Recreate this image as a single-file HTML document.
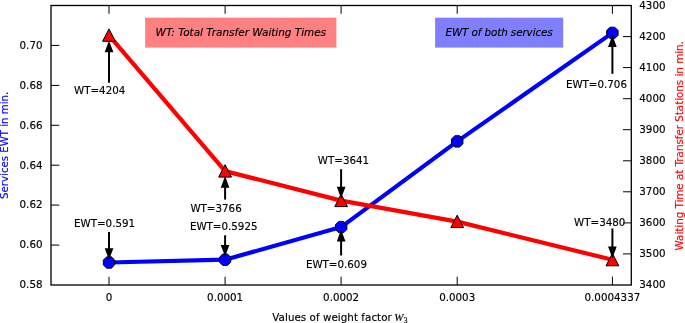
<!DOCTYPE html>
<html><head><meta charset="utf-8"><title>EWT and WT versus weight factor</title>
<style>html,body{margin:0;padding:0;background:#fff}svg{display:block}text{font-family:"DejaVu Sans","Liberation Sans",sans-serif;font-size:10.3px;fill:#000;stroke:#000;stroke-width:.15px}.it{font-style:italic}.m{font-family:"DejaVu Serif","Liberation Serif",serif;font-style:italic}</style></head><body>
<svg width="685" height="323" viewBox="0 0 685 323">
<rect width="685" height="323" fill="#fff"/>
<rect x="145.15" y="17.66" width="191.25" height="29.95" fill="#ff8080"/>
<rect x="435.1" y="17.66" width="128.1" height="29.95" fill="#8080ff"/>
<polyline fill="none" stroke="#0000ff" stroke-width="4.2" stroke-linejoin="round" points="109.0,262.5 225.1,259.7 341.1,227.1 457.2,141.4 612.4,32.9"/>
<polyline fill="none" stroke="#ff0000" stroke-width="4.2" stroke-linejoin="round" points="109.0,35.3 225.1,171.1 341.1,200.6 457.2,221.6 612.4,259.8"/>
<polygon points="114.73,260.14 114.73,264.86 111.39,268.20 106.67,268.20 103.33,264.86 103.33,260.14 106.67,256.80 111.39,256.80" fill="#0000ff" stroke="#000" stroke-width="1" stroke-linejoin="round"/>
<polygon points="230.79,257.34 230.79,262.06 227.45,265.40 222.73,265.40 219.39,262.06 219.39,257.34 222.73,254.00 227.45,254.00" fill="#0000ff" stroke="#000" stroke-width="1" stroke-linejoin="round"/>
<polygon points="346.85,224.74 346.85,229.46 343.51,232.80 338.79,232.80 335.45,229.46 335.45,224.74 338.79,221.40 343.51,221.40" fill="#0000ff" stroke="#000" stroke-width="1" stroke-linejoin="round"/>
<polygon points="462.91,139.04 462.91,143.76 459.57,147.10 454.85,147.10 451.51,143.76 451.51,139.04 454.85,135.70 459.57,135.70" fill="#0000ff" stroke="#000" stroke-width="1" stroke-linejoin="round"/>
<polygon points="618.08,30.54 618.08,35.26 614.74,38.60 610.02,38.60 606.68,35.26 606.68,30.54 610.02,27.20 614.74,27.20" fill="#0000ff" stroke="#000" stroke-width="1" stroke-linejoin="round"/>
<path d="M109.0 28.9L102.6 41.3L115.4 41.3Z" fill="#ff0000" stroke="#000" stroke-width="1"/>
<path d="M225.1 164.7L218.7 177.1L231.5 177.1Z" fill="#ff0000" stroke="#000" stroke-width="1"/>
<path d="M341.1 194.2L334.8 206.6L347.5 206.6Z" fill="#ff0000" stroke="#000" stroke-width="1"/>
<path d="M457.2 215.2L450.8 227.6L463.6 227.6Z" fill="#ff0000" stroke="#000" stroke-width="1"/>
<path d="M612.4 253.4L606.0 265.8L618.8 265.8Z" fill="#ff0000" stroke="#000" stroke-width="1"/>
<rect x="51" y="5.5" width="580.3" height="279.5" fill="none" stroke="#000" stroke-width="1.3"/>
<path d="M109.0 285.0v-8.3M109.0 5.5v8.3M225.1 285.0v-8.3M225.1 5.5v8.3M341.1 285.0v-8.3M341.1 5.5v8.3M457.2 285.0v-8.3M457.2 5.5v8.3M612.4 285.0v-8.3M612.4 5.5v8.3M51.0 245.1h8.3M51.0 205.1h8.3M51.0 165.2h8.3M51.0 125.3h8.3M51.0 85.4h8.3M51.0 45.4h8.3M631.3 253.9h-8.3M631.3 222.9h-8.3M631.3 191.8h-8.3M631.3 160.8h-8.3M631.3 129.7h-8.3M631.3 98.7h-8.3M631.3 67.6h-8.3M631.3 36.6h-8.3" stroke="#000" stroke-width="1" fill="none"/>
<text x="109.0" y="301" text-anchor="middle">0</text>
<text x="225.1" y="301" text-anchor="middle">0.0001</text>
<text x="341.1" y="301" text-anchor="middle">0.0002</text>
<text x="457.2" y="301" text-anchor="middle">0.0003</text>
<text x="612.4" y="301" text-anchor="middle">0.0004337</text>
<text x="42.5" y="288.3" text-anchor="end">0.58</text>
<text x="42.5" y="248.4" text-anchor="end">0.60</text>
<text x="42.5" y="208.4" text-anchor="end">0.62</text>
<text x="42.5" y="168.5" text-anchor="end">0.64</text>
<text x="42.5" y="128.6" text-anchor="end">0.66</text>
<text x="42.5" y="88.7" text-anchor="end">0.68</text>
<text x="42.5" y="48.7" text-anchor="end">0.70</text>
<text x="639.3" y="288.3">3400</text>
<text x="639.3" y="257.2">3500</text>
<text x="639.3" y="226.2">3600</text>
<text x="639.3" y="195.1">3700</text>
<text x="639.3" y="164.1">3800</text>
<text x="639.3" y="133.0">3900</text>
<text x="639.3" y="102.0">4000</text>
<text x="639.3" y="70.9">4100</text>
<text x="639.3" y="39.9">4200</text>
<text x="639.3" y="8.8">4300</text>
<text x="272.3" y="320.5" textLength="119.5">Values of weight factor</text>
<text x="394.3" y="320.5" style="font-family:'Liberation Serif',serif;font-style:italic;font-size:11px">W</text>
<text x="403.7" y="322.7" style="font-family:'Liberation Serif',serif;font-size:7.6px">3</text>
<text transform="translate(8.3,145.3) rotate(-90)" text-anchor="middle" style="fill:#0000ff;stroke:#0000ff;font-size:10.2px">Services EWT in min.</text>
<text transform="translate(683.1,145.8) rotate(-90)" text-anchor="middle" style="fill:#ff0000;stroke:#ff0000">Waiting Time at Transfer Stations in min.</text>
<text class="it" x="155.6" y="35.7" textLength="170.5" style="font-size:10.5px">WT: Total Transfer Waiting Times</text>
<text class="it" x="445.5" y="35.6" textLength="107.2" style="font-size:10.4px">EWT of both services</text>
<path d="M109.0 82.8V51.2" stroke="#000" stroke-width="2" fill="none"/>
<path d="M109.0 40.6L104.7 52.2L113.4 52.2Z" fill="#000"/>
<text x="74.0" y="94.3">WT=4204</text>
<path d="M109.0 232.1V249.2" stroke="#000" stroke-width="2" fill="none"/>
<path d="M109.0 259.8L104.7 248.2L113.4 248.2Z" fill="#000"/>
<text x="74.0" y="226.7">EWT=0.591</text>
<path d="M225.1 199.6V186.7" stroke="#000" stroke-width="2" fill="none"/>
<path d="M225.1 176.1L220.7 187.7L229.4 187.7Z" fill="#000"/>
<text x="190.4" y="211.9">WT=3766</text>
<path d="M225.1 235.3V245.9" stroke="#000" stroke-width="2" fill="none"/>
<path d="M225.1 256.5L220.7 244.9L229.4 244.9Z" fill="#000"/>
<text x="189.9" y="229.8">EWT=0.5925</text>
<path d="M341.1 169.2V187.8" stroke="#000" stroke-width="2" fill="none"/>
<path d="M341.1 198.4L336.8 186.8L345.5 186.8Z" fill="#000"/>
<text x="317.8" y="163.8">WT=3641</text>
<path d="M341.1 255.5V240.4" stroke="#000" stroke-width="2" fill="none"/>
<path d="M341.1 229.8L336.8 241.4L345.5 241.4Z" fill="#000"/>
<text x="305.9" y="267.8">EWT=0.609</text>
<path d="M612.4 228.5V247.6" stroke="#000" stroke-width="2" fill="none"/>
<path d="M612.4 258.2L608.0 246.6L616.7 246.6Z" fill="#000"/>
<text x="574.1" y="225.8">WT=3480</text>
<path d="M612.4 73.8V45.9" stroke="#000" stroke-width="2" fill="none"/>
<path d="M612.4 35.3L608.0 46.9L616.7 46.9Z" fill="#000"/>
<text x="565.9" y="88.2">EWT=0.706</text>
</svg></body></html>
